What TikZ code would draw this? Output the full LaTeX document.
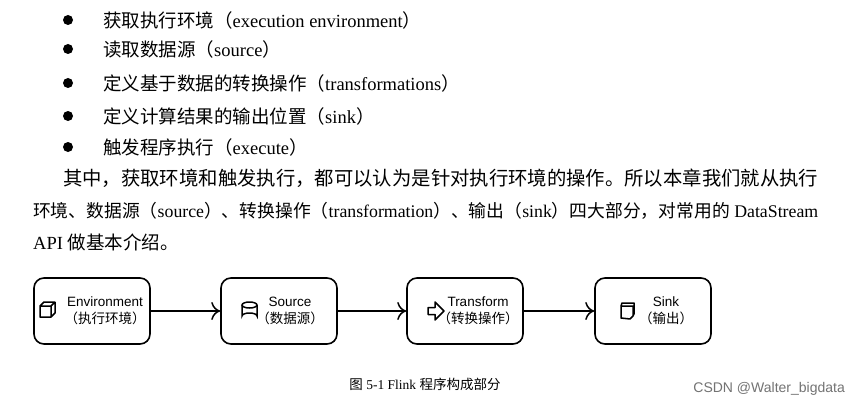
\documentclass[tikz,border=0pt]{standalone}
\usepackage{fontspec}
\usepackage{graphicx}
\setmainfont{Liberation Serif}
\setsansfont{Liberation Sans}
\newfontfamily\zhf{Noto Sans CJK SC}
\newcommand\zh[1]{{\zhf #1}}
\usetikzlibrary{arrows.meta}
\begin{document}
\begin{tikzpicture}[x=1pt,y=-1pt,
  txt/.style={anchor=west,inner sep=0pt,font=\fontsize{18.5}{20}\selectfont},
  box/.style={draw,line width=1.6pt,rounded corners=10pt,minimum width=116pt,minimum height=66pt},
  lbl/.style={font=\sffamily\fontsize{13.5}{17}\selectfont,align=center,inner sep=0pt},
  conn/.style={line width=1.5pt,-{To[length=9pt,width=18pt,line width=1.5pt]}},
  ico/.style={line width=1.5pt}]
\useasboundingbox (0,0) rectangle (858,409);
\fill[white] (0,0) rectangle (858,409);
% bullets
\foreach \y in {20,49,83,116,147}{\fill (68,\y) circle (5pt);}
\node[txt] (t1) at (103,20) {\zh{获取执行环境（}execution environment\zh{）}};
\node[txt] (t2) at (103,49) {\zh{读取数据源（}source\zh{）}};
\node[txt] (t3) at (103,83) {\zh{定义基于数据的转换操作（}transformations\zh{）}};
\node[txt] (t4) at (103,116) {\zh{定义计算结果的输出位置（}sink\zh{）}};
\node[txt] (t5) at (103,147) {\zh{触发程序执行（}execute\zh{）}};
\node[txt] (p1) at (63,178) {\resizebox{755pt}{!}{\zh{其中，获取环境和触发执行，都可以认为是针对执行环境的操作。所以本章我们就从执行}}};
\node[txt] (p2) at (33,211) {\resizebox{785pt}{!}{\zh{环境、数据源（}source\zh{）、转换操作（}transformation\zh{）、输出（}sink\zh{）四大部分，对常用的} DataStream}};
\node[txt] (p3) at (33,242) {API \zh{做基本介绍。}};
% boxes
\node[box] (env) at (92,311) {};
\node[box] (src) at (279,311) {};
\node[box] (tr) at (465,311) {};
\node[box] (snk) at (653,311) {};
\node[lbl] (envl) at (105,311) {Environment\\\zh{（执行环境）}};
\node[lbl] (srcl) at (290,311) {Source\\\zh{（数据源）}};
\node[lbl] (trl) at (478,311) {Transform\\\zh{（转换操作）}};
\node[lbl] (snkl) at (666,311) {Sink\\\zh{（输出）}};
\draw[conn] (env) -- (src);
\draw[conn] (src) -- (tr);
\draw[conn] (tr) -- (snk);
% icons
\draw[ico,line join=round] (40,306) rectangle (51,317) (40,306) -- (44,302) -- (55,302) -- (55,313) -- (51,317) (51,306) -- (55,302);
\draw[ico] (242,305) -- (242,316) arc[start angle=180,end angle=360,x radius=7.5,y radius=3] -- (257,305);
\draw[ico] (249.5,305) ellipse[x radius=7.5,y radius=3];
\draw[ico,line join=round] (428,307.5) -- (435,307.5) -- (435,302) -- (444,311) -- (435,320) -- (435,314.5) -- (428,314.5) -- cycle;
\draw[ico,line join=round] (621,306) -- (621,318) -- (630,319) -- (633,316) -- (633,306) -- cycle (621,306) -- (622,303) -- (634,303) -- (634,314) -- (633,316);
% caption
\node[inner sep=0pt,font=\fontsize{13.5}{15}\selectfont] (cap) at (425,384) {\zh{图} 5-1 Flink \zh{程序构成部分}};
\node[inner sep=0pt,anchor=east,text=black!55,font=\sffamily\fontsize{14}{16}\selectfont] (wm) at (845,389) {CSDN @Walter\_bigdata};
\end{tikzpicture}
\end{document}
